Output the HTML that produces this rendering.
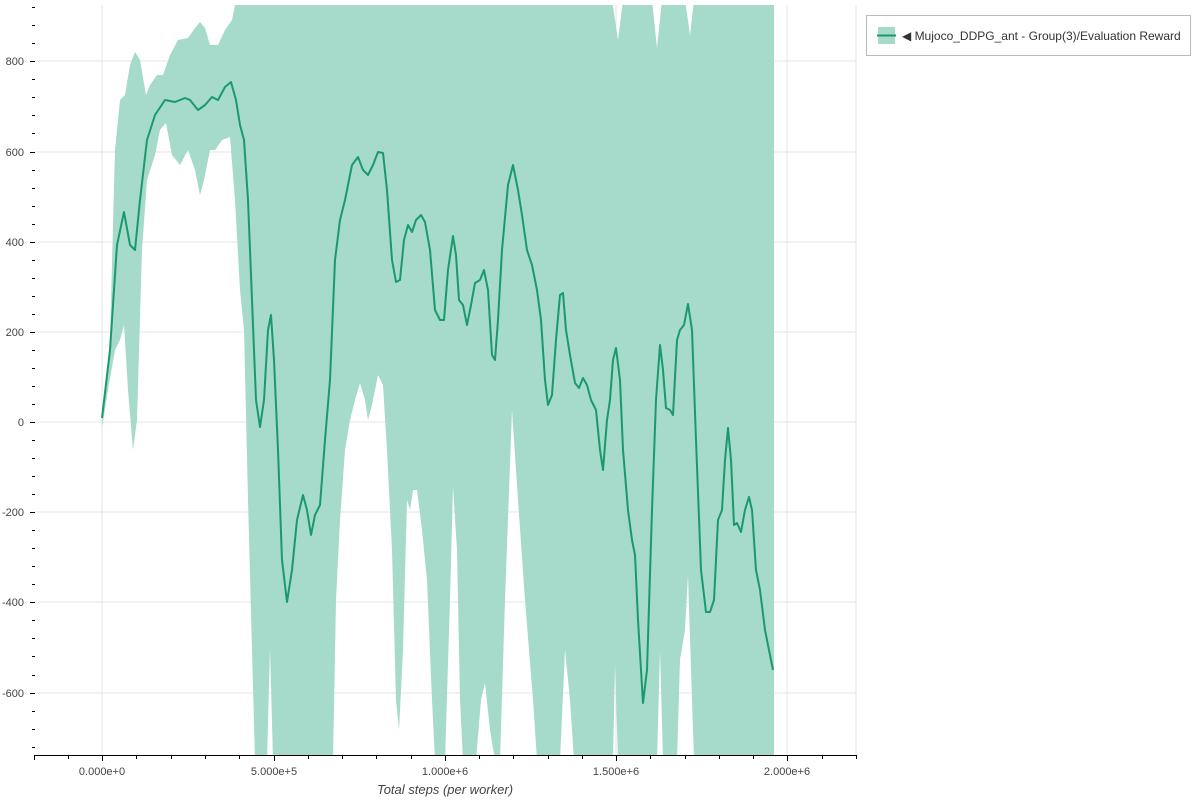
<!DOCTYPE html>
<html><head><meta charset="utf-8"><style>
body{margin:0;background:#fff;width:1200px;height:800px;overflow:hidden;font-family:"Liberation Sans",sans-serif}
</style></head><body>
<svg width="1200" height="800" viewBox="0 0 1200 800" xmlns="http://www.w3.org/2000/svg" font-family="Liberation Sans, sans-serif">
<defs><clipPath id="c"><rect x="35" y="5" width="821" height="750"/></clipPath></defs>
<g stroke="#e5e5e5" stroke-width="1">
<line x1="102" y1="5" x2="102" y2="755"/><line x1="274" y1="5" x2="274" y2="755"/><line x1="445" y1="5" x2="445" y2="755"/><line x1="616" y1="5" x2="616" y2="755"/><line x1="787" y1="5" x2="787" y2="755"/><line x1="856" y1="5" x2="856" y2="755"/>
<line x1="35" y1="61" x2="856" y2="61"/><line x1="35" y1="152" x2="856" y2="152"/><line x1="35" y1="242" x2="856" y2="242"/><line x1="35" y1="332" x2="856" y2="332"/><line x1="35" y1="422" x2="856" y2="422"/><line x1="35" y1="512" x2="856" y2="512"/><line x1="35" y1="602" x2="856" y2="602"/><line x1="35" y1="693" x2="856" y2="693"/>
</g>
<g clip-path="url(#c)">
<polygon fill="#a6dacb" points="102,422 110,340 115,150 120,100 125,95 130,65 135,52 140,60 146,95 150,85 157,75 163,75 170,55 178,40 188,38 195,28 200,22 205,28 210,45 218,45 225,30 232,20 236,0 612,0 618,40 623,0 652,0 657,48 662,0 685,0 690,35 694,0 774,0 774,760 694,760 692,700 688,575 685,630 680,660 677,760 663,760 660,650 657,760 618,760 615,665 613,760 574,760 570,700 565,650 560,760 537,760 533,700 525,600 518,500 512,410 505,600 500,760 495,760 490,730 485,683 481,700 476,760 463,760 460,700 457,550 453,487 450,600 445,760 435,760 432,700 427,580 422,530 417,490 413,490 410,510 407,500 403,650 399,730 396,700 392,550 387,450 383,385 378,375 372,405 368,420 365,400 360,383 355,400 350,420 345,450 340,520 336,600 333,760 273,760 270,648 267,760 255,760 252,650 248,500 244,330 240,290 235,200 230,137 222,140 215,150 210,150 204,180 200,195 195,170 188,150 180,165 172,155 166,123 160,130 155,155 147,180 142,250 137,420 133,450 128,390 124,325 120,340 115,350 108,390 102,428"/>
<polyline fill="none" stroke="#1a9a6c" stroke-width="2" stroke-linejoin="round" points="102,418 110,350 117,245 124,212 130,245 135,250 140,200 147,140 155,115 165,100 175,102 185,98 190,100 198,110 205,105 212,97 218,100 225,87 231,82 236,100 240,125 244,140 248,200 252,300 256,400 260,427 264,400 268,330 271,315 274,360 278,450 282,560 287,602 292,570 297,520 303,495 307,510 311,535 315,515 320,505 325,440 330,380 335,260 340,220 345,200 352,165 358,157 363,170 368,175 373,165 378,152 383,153 387,190 392,260 396,282 400,280 404,240 408,225 412,232 416,220 421,215 425,222 430,250 435,310 440,320 444,320 448,270 453,236 456,255 459,300 463,305 467,325 471,305 475,283 480,280 484,270 488,290 492,355 495,360 498,320 502,250 508,185 513,165 518,190 522,215 527,250 532,265 537,290 541,320 545,380 548,405 552,395 556,340 560,295 563,293 566,330 570,355 575,383 579,388 583,378 587,385 591,400 596,410 600,450 603,470 607,420 610,400 613,360 616,348 620,380 623,450 628,510 632,540 635,555 638,620 643,703 647,670 652,510 656,400 660,345 663,370 666,408 670,410 673,415 677,340 680,330 684,325 688,304 692,330 696,440 701,570 706,612 710,612 714,600 718,520 722,510 725,460 728,428 731,460 734,525 737,523 741,532 745,510 749,497 752,510 756,570 760,590 765,630 773,670"/>
</g>
<g stroke="#000" stroke-width="1">
<line x1="34" y1="755.5" x2="856" y2="755.5"/>
<path d="M34.5 755v5M68.5 755v4M102.5 755v6M136.5 755v4M171.5 755v4M205.5 755v4M239.5 755v4M274.5 755v6M308.5 755v4M342.5 755v4M376.5 755v4M411.5 755v4M445.5 755v6M479.5 755v4M513.5 755v4M548.5 755v4M582.5 755v4M616.5 755v6M650.5 755v4M685.5 755v4M719.5 755v4M753.5 755v4M787.5 755v6M822.5 755v4M856.5 755v4"/>
<path d="M30 61.5h5M30 152.5h5M30 242.5h5M30 332.5h5M30 422.5h5M30 512.5h5M30 602.5h5M30 693.5h5M32 7.5h3M32 25.5h3M32 43.5h3M32 79.5h3M32 97.5h3M32 115.5h3M32 133.5h3M32 170.5h3M32 188.5h3M32 206.5h3M32 224.5h3M32 260.5h3M32 278.5h3M32 296.5h3M32 314.5h3M32 350.5h3M32 368.5h3M32 386.5h3M32 404.5h3M32 440.5h3M32 458.5h3M32 476.5h3M32 494.5h3M32 530.5h3M32 548.5h3M32 566.5h3M32 584.5h3M32 620.5h3M32 638.5h3M32 656.5h3M32 675.5h3M32 711.5h3M32 729.5h3M32 747.5h3"/>
</g>
<g font-size="11" fill="#444" text-anchor="end">
<text x="24" y="65">800</text><text x="24" y="156">600</text><text x="24" y="246">400</text><text x="24" y="336">200</text><text x="24" y="426">0</text><text x="24" y="516">-200</text><text x="24" y="606">-400</text><text x="24" y="697">-600</text>
</g>
<g font-size="11" fill="#444" text-anchor="middle">
<text x="102" y="775">0.000e+0</text><text x="274" y="775">5.000e+5</text><text x="445" y="775">1.000e+6</text><text x="616" y="775">1.500e+6</text><text x="787" y="775">2.000e+6</text>
</g>
<text x="445" y="794" font-size="13" font-style="italic" fill="#444" text-anchor="middle">Total steps (per worker)</text>
<rect x="866.5" y="15.5" width="324" height="40" fill="#fff" stroke="#bbb"/>
<rect x="878" y="27" width="17" height="17" fill="#a6dacb"/>
<line x1="877" y1="35.5" x2="896" y2="35.5" stroke="#1a9a6c" stroke-width="2"/>
<text x="902" y="40" font-size="12" fill="#333">◀ Mujoco_DDPG_ant - Group(3)/Evaluation Reward</text>
</svg>
</body></html>
